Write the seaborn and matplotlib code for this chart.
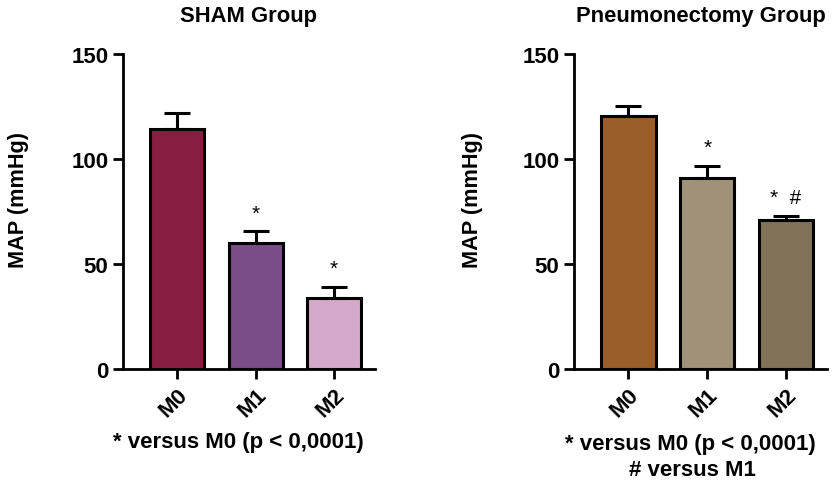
import matplotlib
matplotlib.use("Agg")
import matplotlib.pyplot as plt
import seaborn as sns
import pandas as pd
import numpy as np

categories = ["M0", "M1", "M2"]
sham_mean = [114.3, 59.8, 33.7]
sham_err = [7.6, 5.7, 5.5]
pnx_mean = [120.6, 91.0, 71.0]
pnx_err = [4.8, 5.8, 2.0]
sham_colors = ["#861E41", "#7A4D89", "#D3A8C8"]
pnx_colors = ["#9B5E2B", "#A09179", "#807357"]
sham_marks = ["", "*", "*"]
pnx_marks = ["", "*", "*  #"]
yticks = [0, 50, 100, 150]

sns.set_theme(style="ticks")
plt.rcParams['font.family'] = ['Liberation Sans', 'DejaVu Sans']
plt.rcParams['font.weight'] = 'bold'
plt.rcParams['text.color'] = 'black'
plt.rcParams['axes.labelcolor'] = 'black'

fig = plt.figure(figsize=(8.39, 4.81), dpi=100)
ax1 = fig.add_axes([123/839, 1-370/481, 252/839, 315/481])
ax2 = fig.add_axes([574/839, 1-370/481, 253/839, 315/481])

def panel(ax, means, errs, colors, marks, title):
    df = pd.DataFrame({"cat": categories, "val": means})
    sns.barplot(data=df, x="cat", y="val", hue="cat", palette=colors, legend=False,
                ax=ax, width=0.69, edgecolor="black", linewidth=2.2, saturation=1)
    x = np.arange(len(categories))
    ax.errorbar(x, means, yerr=[np.zeros(len(errs)), errs], fmt="none", ecolor="black",
                elinewidth=2.2, capsize=9.5, capthick=2.2, zorder=1)
    for xi, m, e, t in zip(x, means, errs, marks):
        if t:
            ax.text(xi, m + e + 4, t, ha="center", va="bottom", fontsize=15, fontweight="normal", color="black")
    ax.set_ylim(0, 150)
    ax.set_xlim(-0.69, 2.52)
    ax.set_yticks(yticks)
    ax.set_xlabel("")
    ax.set_ylabel("MAP (mmHg)", fontsize=15.6, fontweight="bold", color="black")
    ax.set_title(title, fontsize=15.8, fontweight="bold", pad=24, color="black")
    for s in ["top", "right"]:
        ax.spines[s].set_visible(False)
    for s in ["left", "bottom"]:
        ax.spines[s].set_linewidth(2.0)
        ax.spines[s].set_color("black")
    ax.tick_params(axis="both", width=2.0, length=7, labelsize=16, color="black", labelcolor="black")
    for lab in ax.get_xticklabels():
        lab.set_rotation(45)
        lab.set_ha("right")
        lab.set_rotation_mode("anchor")
        lab.set_fontweight("bold")
    for lab in ax.get_yticklabels():
        lab.set_fontweight("bold")

panel(ax1, sham_mean, sham_err, sham_colors, sham_marks, "SHAM Group")
panel(ax2, pnx_mean, pnx_err, pnx_colors, pnx_marks, "Pneumonectomy Group")

# place y labels (right edge of rotated text) at reference pixel positions
for ax, xpix in [(ax1, 29), (ax2, 483)]:
    bbox = ax.get_position()
    xfrac = (xpix / 839 - bbox.x0) / bbox.width
    ax.yaxis.set_label_coords(xfrac, 0.54)

fig.text(238/839, 1-443/481, "* versus M0 (p < 0,0001)", ha="center", va="center", fontsize=16, fontweight="bold")
fig.text(690/839, 1-445/481, "* versus M0 (p < 0,0001)", ha="center", va="center", fontsize=16, fontweight="bold")
fig.text(692/839, 1-471/481, "# versus M1", ha="center", va="center", fontsize=16, fontweight="bold")

fig.savefig("out.png", dpi=100)
